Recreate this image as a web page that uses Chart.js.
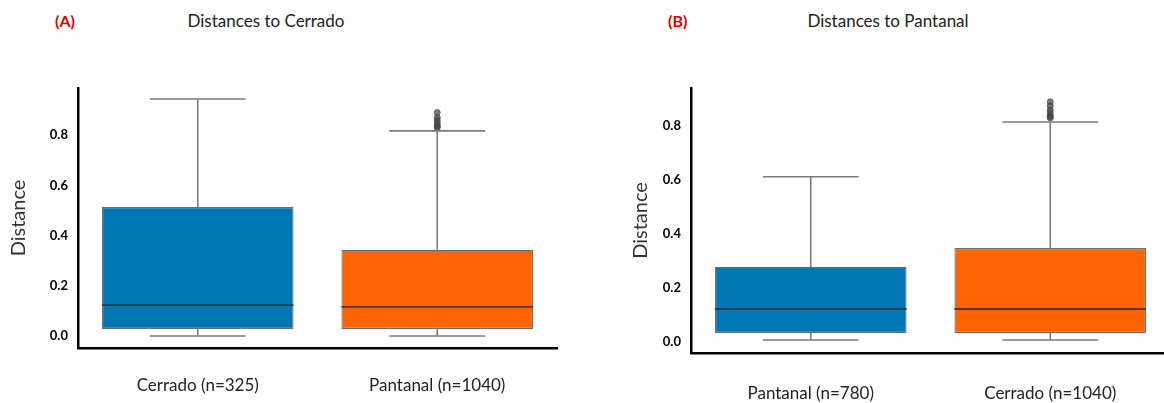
<!DOCTYPE html>
<html>
<head>
<meta charset="utf-8">
<script src="https://cdn.jsdelivr.net/npm/chart.js@4.4.0/dist/chart.umd.min.js"></script>
<style>
  html, body { margin: 0; padding: 0; background: #fff; }
  body { width: 1164px; height: 403px; overflow: hidden; position: relative; font-family: Lato, 'Open Sans', sans-serif; }
  .panel { position: absolute; top: 0; height: 403px; }
  .tag { position: absolute; top: 11px; color: #e00000; font-weight: bold; font-size: 16px; }
  .title { position: absolute; top: 10px; color: #222; font-size: 17px; transform: translateX(-50%); white-space: nowrap; }
</style>
</head>
<body>
<div class="tag" style="left:55px">(A)</div>
<div class="title" style="left:266px">Distances to Cerrado</div>
<div class="tag" style="left:668px">(B)</div>
<div class="title" style="left:888px">Distances to Pantanal</div>
<div class="panel" style="left:0;width:600px"><canvas id="chartA"></canvas></div>
<div class="panel" style="left:622px;width:560px"><canvas id="chartB"></canvas></div>
<script>
// 箱形圖數值 (A) Distances to Cerrado
const catsA = ['Cerrado (n=325)', 'Pantanal (n=1040)'];
const lowA = [0.0, 0.0];
const q1A = [0.028, 0.028];
const medA = [0.123, 0.116];
const q3A = [0.514, 0.343];
const highA = [0.944, 0.817];
const outA = [[], [0.83, 0.835, 0.84, 0.85, 0.86, 0.87, 0.89]];

// (B) Distances to Pantanal
const catsB = ['Pantanal (n=780)', 'Cerrado (n=1040)'];
const lowB = [0.007, 0.007];
const q1B = [0.033, 0.033];
const medB = [0.122, 0.122];
const q3B = [0.278, 0.348];
const highB = [0.612, 0.815];
const outB = [[], [0.83, 0.835, 0.84, 0.85, 0.86, 0.875, 0.89]];

const yTicks = [0, 0.2, 0.4, 0.6, 0.8];
const boxColors = ['#0076b4', '#ff6400'];

Chart.defaults.font.family = 'Lato, "Open Sans", sans-serif';

// 畫鬚線和中位數
const whiskerPlugin = {
    id: 'whiskers',
    afterDatasetsDraw(chart, args, opts) {
        const ctx = chart.ctx;
        const x = chart.scales.x, y = chart.scales.y;
        const bars = chart.getDatasetMeta(0).data;
        ctx.save();
        opts.low.forEach((lo, i) => {
            const cx = x.getPixelForValue(i);
            const w = bars[i].width;
            const cap = w / 4;
            ctx.strokeStyle = '#7b7b7b';
            ctx.lineWidth = 1.6;
            ctx.beginPath();
            ctx.moveTo(cx, y.getPixelForValue(opts.q3[i]));
            ctx.lineTo(cx, y.getPixelForValue(opts.high[i]));
            ctx.moveTo(cx - cap, y.getPixelForValue(opts.high[i]));
            ctx.lineTo(cx + cap, y.getPixelForValue(opts.high[i]));
            ctx.moveTo(cx, y.getPixelForValue(opts.q1[i]));
            ctx.lineTo(cx, y.getPixelForValue(lo));
            ctx.moveTo(cx - cap, y.getPixelForValue(lo));
            ctx.lineTo(cx + cap, y.getPixelForValue(lo));
            ctx.stroke();
            ctx.strokeStyle = 'rgba(40,50,55,0.85)';
            ctx.lineWidth = 1.8;
            ctx.beginPath();
            ctx.moveTo(cx - w / 2, y.getPixelForValue(opts.med[i]));
            ctx.lineTo(cx + w / 2, y.getPixelForValue(opts.med[i]));
            ctx.stroke();
        });
        ctx.restore();
    }
};

function makeChart(id, cats, low, q1, med, q3, high, outliers, yMin, yMax, rightPad, yWidth, xHeight, xPad) {
    const outPts = [];
    outliers.forEach((list, i) => list.forEach(v => outPts.push({x: cats[i], y: v})));
    return new Chart(document.getElementById(id), {
        type: 'bar',
        data: {
            labels: cats,
            datasets: [{
                data: q1.map((v, i) => [v, q3[i]]),
                backgroundColor: boxColors,
                borderColor: 'rgba(60,60,60,0.75)',
                borderWidth: 1.2,
                borderSkipped: false,
                barPercentage: 0.8,
                categoryPercentage: 1.0
            }, {
                type: 'line',
                data: outPts,
                showLine: false,
                pointRadius: 3,
                pointBackgroundColor: 'rgba(70,70,70,0.7)',
                pointBorderColor: 'rgba(70,70,70,0.7)'
            }]
        },
        options: {
            responsive: true,
            maintainAspectRatio: false,
            animation: false,
            layout: {padding: {top: 88, right: rightPad, left: 0, bottom: 0}},
            plugins: {
                legend: {display: false},
                tooltip: {enabled: false},
                whiskers: {low: low, q1: q1, med: med, q3: q3, high: high}
            },
            scales: {
                x: {
                    grid: {display: false, drawTicks: false},
                    border: {display: true, color: '#000', width: 2.5},
                    ticks: {color: '#222', font: {size: 17}, padding: xPad, maxRotation: 0},
                    afterFit(s) { s.height = xHeight; }
                },
                y: {
                    min: yMin,
                    max: yMax,
                    grid: {display: false, drawTicks: false},
                    border: {display: true, color: '#000', width: 2.5},
                    afterBuildTicks(s) { s.ticks = yTicks.map(v => ({value: v})); },
                    ticks: {
                        color: '#000',
                        font: {size: 13, weight: 'bold'},
                        padding: 10,
                        callback: v => v.toFixed(1)
                    },
                    title: {
                        display: true,
                        text: 'Distance',
                        color: '#333',
                        font: {size: 20},
                        padding: {top: 7, bottom: 0}
                    },
                    afterFit(s) { s.width = yWidth; }
                }
            }
        },
        plugins: [whiskerPlugin]
    });
}

makeChart('chartA', catsA, lowA, q1A, medA, q3A, highA, outA, -0.048, 0.988, 43, 78, 55, 27);
makeChart('chartB', catsB, lowB, q1B, medB, q3B, highB, outB, -0.041, 0.941, 12, 69, 50, 30);
</script>
</body>
</html>
